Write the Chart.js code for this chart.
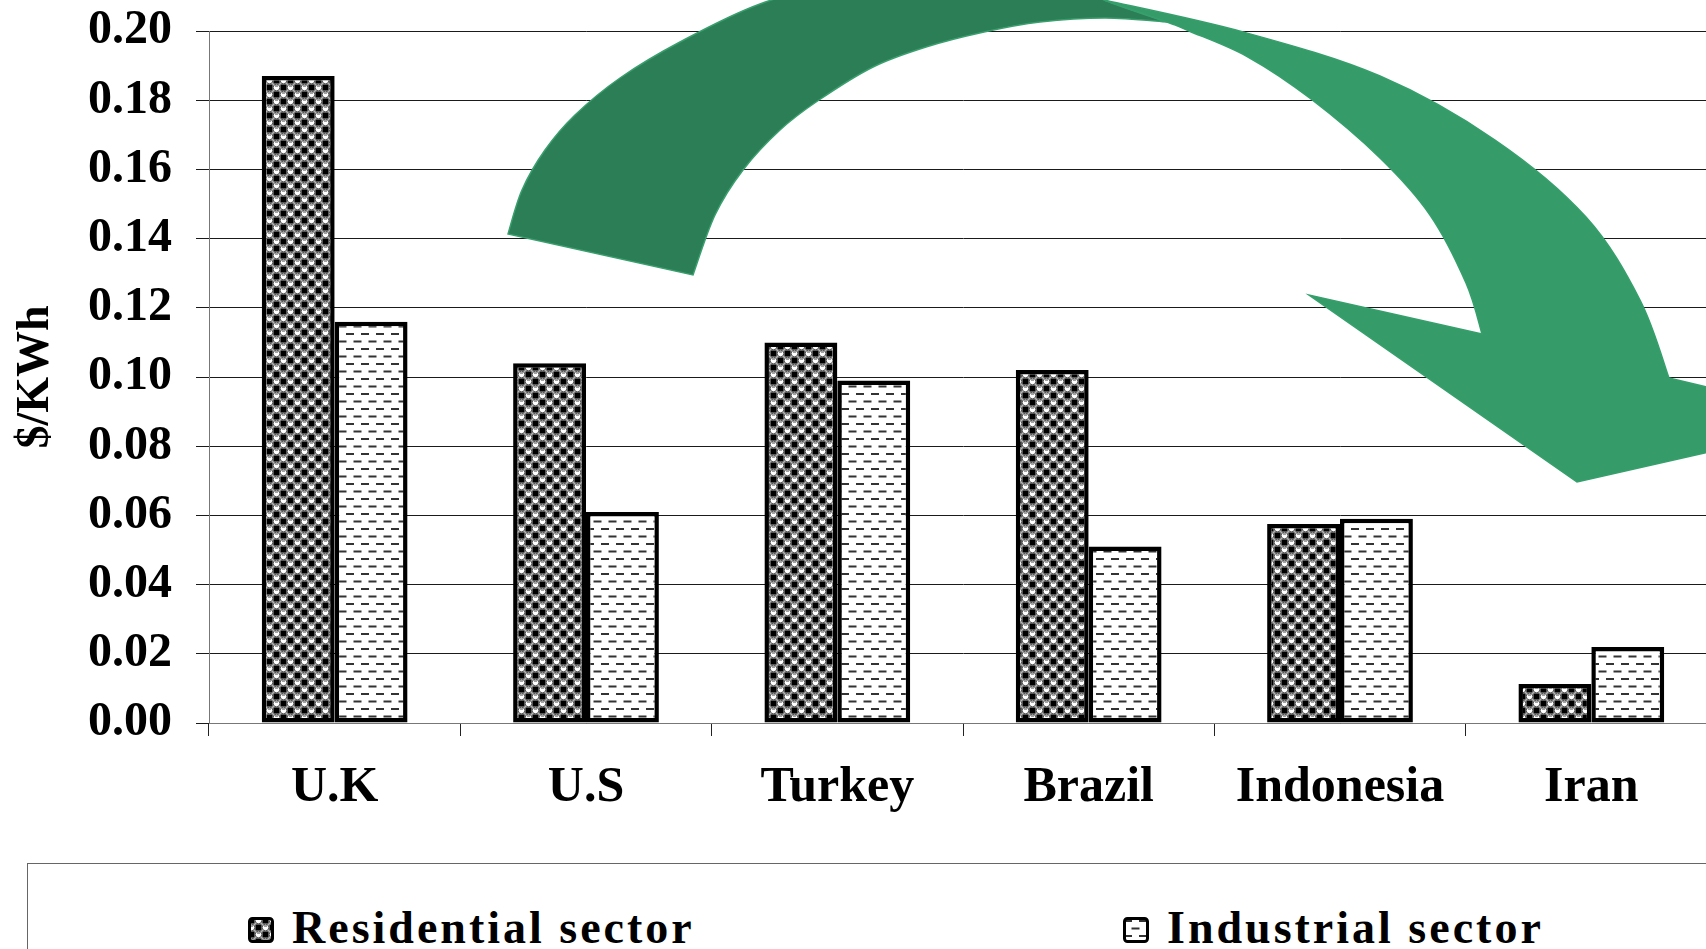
<!DOCTYPE html>
<html lang="en">
<head>
    <meta charset="UTF-8">
    <title>Electricity price by sector</title>
    <style>
        body {
            margin: 0;
            padding: 0;
            background: #fff;
            overflow: hidden;
            width: 1706px;
            height: 949px;
            position: relative;
        }

        #chart-wrap {
            position: absolute;
            left: 0;
            top: 0;
            width: 1730px;
            height: 863px;
        }

        /* legend box at the bottom */
        #legend {
            position: absolute;
            left: 27px;
            top: 863px;
            width: 1720px;
            height: 120px;
            border: 1.5px solid #666;
            box-sizing: border-box;
        }

        .legend-item {
            position: absolute;
            top: 41px;
            height: 46px;
            font-family: "Liberation Serif", "Times New Roman", serif;
            font-weight: bold;
            font-size: 46px;
            line-height: 46px;
            letter-spacing: 3px;
            white-space: nowrap;
            color: #000;
        }

        .legend-item canvas {
            position: absolute;
            left: 0;
            top: 12px;
        }

        .legend-item span {
            position: absolute;
            left: 44px;
            top: 0;
        }
    </style>
    <script src="https://cdn.jsdelivr.net/npm/chart.js"></script>
</head>
<body>

    <div id="chart-wrap">
        <canvas id="price-chart"></canvas>
    </div>
    <div id="legend"></div>

    <script>
        // values ($/KWh)
        const countries = ['U.K', 'U.S', 'Turkey', 'Brazil', 'Indonesia', 'Iran'];
        const residential = [0.187, 0.104, 0.110, 0.102, 0.0575, 0.0113];
        const industrial = [0.116, 0.061, 0.099, 0.051, 0.059, 0.022];
        const seriesNames = ['Residential sector', 'Industrial sector'];
        const yTicks = [0, 0.02, 0.04, 0.06, 0.08, 0.10, 0.12, 0.14, 0.16, 0.18, 0.20];

        const serif = '"Liberation Serif", "Times New Roman", serif';

        // checker of black squares and white circles
        function makeDotPattern() {
            const c = document.createElement('canvas');
            c.width = 14; c.height = 14;
            const g = c.getContext('2d');
            g.fillStyle = '#b5b5b5';
            g.fillRect(0, 0, 14, 14);
            g.fillStyle = '#000';
            g.fillRect(0.5, 0.5, 6, 6);
            g.fillRect(7.5, 7.5, 6, 6);
            g.strokeStyle = '#555';
            g.lineWidth = 1;
            [[10.5, 3.5], [3.5, 10.5]].forEach(p => {
                g.beginPath();
                g.arc(p[0], p[1], 3.3, 0, Math.PI * 2);
                g.fillStyle = '#fff';
                g.fill();
                g.stroke();
                g.fillStyle = '#444';
                g.fillRect(p[0] - 1.5, p[1] - 2, 3, 1);
            });
            return g.createPattern(c, 'repeat');
        }

        // staggered short dashes
        function makeDashPattern() {
            const c = document.createElement('canvas');
            c.width = 15; c.height = 15;
            const g = c.getContext('2d');
            g.fillStyle = '#fff';
            g.fillRect(0, 0, 15, 15);
            g.fillStyle = '#333';
            g.fillRect(1, 3, 8, 2);
            g.fillRect(8.5, 10.5, 8, 2);
            g.fillRect(-6.5, 10.5, 8, 2);
            return g.createPattern(c, 'repeat');
        }

        const dotPattern = makeDotPattern();
        const dashPattern = makeDashPattern();
        const fills = [dotPattern, dashPattern];

        // smooth curve through points (catmull-rom)
        function curveThrough(ctx, pts) {
            for (let i = 0; i < pts.length - 1; i++) {
                const p0 = pts[i - 1] || pts[i];
                const p1 = pts[i];
                const p2 = pts[i + 1];
                const p3 = pts[i + 2] || p2;
                ctx.bezierCurveTo(
                    p1[0] + (p2[0] - p0[0]) / 6, p1[1] + (p2[1] - p0[1]) / 6,
                    p2[0] - (p3[0] - p1[0]) / 6, p2[1] - (p3[1] - p1[1]) / 6,
                    p2[0], p2[1]
                );
            }
        }

        // the big green arrow over the plot (left dark band + right light band with head)
        const arrowPlugin = {
            id: 'arrow',
            afterDraw(chart) {
                const ctx = chart.ctx;
                ctx.save();
                ctx.lineWidth = 1.5;

                const darkOuter = [[508, 234], [522, 190], [545, 150], [575, 115], [620, 78],
                    [680, 42], [760, 4], [850, -20], [980, -34], [1070, -18], [1104, 0], [1167, 22]];
                const darkInner = [[1167, 22], [1105, 18], [1040, 22], [984, 32], [926, 47],
                    [873, 67], [819, 100], [780, 130], [743, 170], [715, 215], [693, 275]];
                ctx.beginPath();
                ctx.moveTo(darkOuter[0][0], darkOuter[0][1]);
                curveThrough(ctx, darkOuter);
                curveThrough(ctx, darkInner);
                ctx.closePath();
                ctx.fillStyle = '#2b7e55';
                ctx.fill();
                ctx.strokeStyle = '#3a9f6e';
                ctx.stroke();

                const lightOuter = [[1104, 0], [1243, 32], [1380, 76], [1495, 140], [1586, 217],
                    [1640, 300], [1669, 378]];
                const lightInner = [[1482, 334], [1466, 283], [1430, 215], [1380, 158], [1311, 99],
                    [1248, 57], [1189, 31], [1167, 22], [1104, 0]];
                ctx.beginPath();
                ctx.moveTo(lightOuter[0][0], lightOuter[0][1]);
                curveThrough(ctx, lightOuter);
                ctx.lineTo(1740, 395);
                ctx.lineTo(1740, 445);
                ctx.lineTo(1577, 482);
                ctx.lineTo(1309, 295);
                ctx.lineTo(lightInner[0][0], lightInner[0][1]);
                curveThrough(ctx, lightInner);
                ctx.closePath();
                ctx.fillStyle = '#349b69';
                ctx.fill();
                ctx.strokeStyle = '#36a06c';
                ctx.stroke();
                ctx.restore();
            }
        };

        const ctx = document.getElementById('price-chart').getContext('2d');
        const priceChart = new Chart(ctx, {
            type: 'bar',
            data: {
                labels: countries,
                datasets: [{
                    label: seriesNames[0],
                    data: residential,
                    backgroundColor: dotPattern,
                    borderColor: '#000',
                    borderWidth: 4.5,
                    borderSkipped: false
                }, {
                    label: seriesNames[1],
                    data: industrial,
                    backgroundColor: dashPattern,
                    borderColor: '#000',
                    borderWidth: 4.5,
                    borderSkipped: false
                }]
            },
            options: {
                responsive: true,
                maintainAspectRatio: false,
                animation: false,
                categoryPercentage: 0.58,
                barPercentage: 1.0,
                layout: {
                    padding: { left: 0, top: 31, right: 13, bottom: 23 }
                },
                plugins: {
                    legend: { display: false },
                    tooltip: { enabled: false }
                },
                scales: {
                    x: {
                        grid: {
                            display: true,
                            drawOnChartArea: false,
                            drawTicks: true,
                            tickLength: 13,
                            offset: true,
                            color: '#222'
                        },
                        border: { color: '#777', width: 1 },
                        ticks: {
                            color: '#000',
                            padding: 22,
                            font: { family: serif, size: 50, weight: 'bold' }
                        }
                    },
                    y: {
                        min: 0,
                        max: 0.2,
                        afterFit(scale) {
                            scale.width = 209;
                            scale.paddingTop = 0;
                            scale.paddingBottom = 0;
                        },
                        afterBuildTicks(scale) {
                            scale.ticks = yTicks.map(v => ({ value: v }));
                        },
                        grid: {
                            color: '#1a1a1a',
                            lineWidth: 1,
                            tickLength: 13
                        },
                        border: { color: '#777', width: 1 },
                        ticks: {
                            color: '#000',
                            padding: 24,
                            font: { family: serif, size: 48, weight: 'bold' },
                            callback: v => Number(v).toFixed(2)
                        },
                        title: {
                            display: true,
                            text: '$/KWh',
                            color: '#000',
                            padding: { top: 9, bottom: 0 },
                            font: { family: serif, size: 46, weight: 'bold' }
                        }
                    }
                }
            },
            plugins: [arrowPlugin]
        });

        // html legend, swatches use the same fills as the bars
        const legendBox = document.getElementById('legend');
        const legendLeft = [220, 1095];
        priceChart.data.datasets.forEach((ds, i) => {
            const item = document.createElement('div');
            item.className = 'legend-item';
            item.style.left = legendLeft[i] + 'px';
            const sw = document.createElement('canvas');
            sw.width = 26; sw.height = 26;
            const g = sw.getContext('2d');
            g.fillStyle = fills[i];
            g.fillRect(2, 2, 22, 22);
            g.strokeStyle = '#000';
            g.lineWidth = 3;
            g.beginPath();
            g.roundRect(1.5, 1.5, 23, 23, 3);
            g.stroke();
            const label = document.createElement('span');
            label.textContent = ds.label;
            item.appendChild(sw);
            item.appendChild(label);
            legendBox.appendChild(item);
        });
    </script>
</body>
</html>
